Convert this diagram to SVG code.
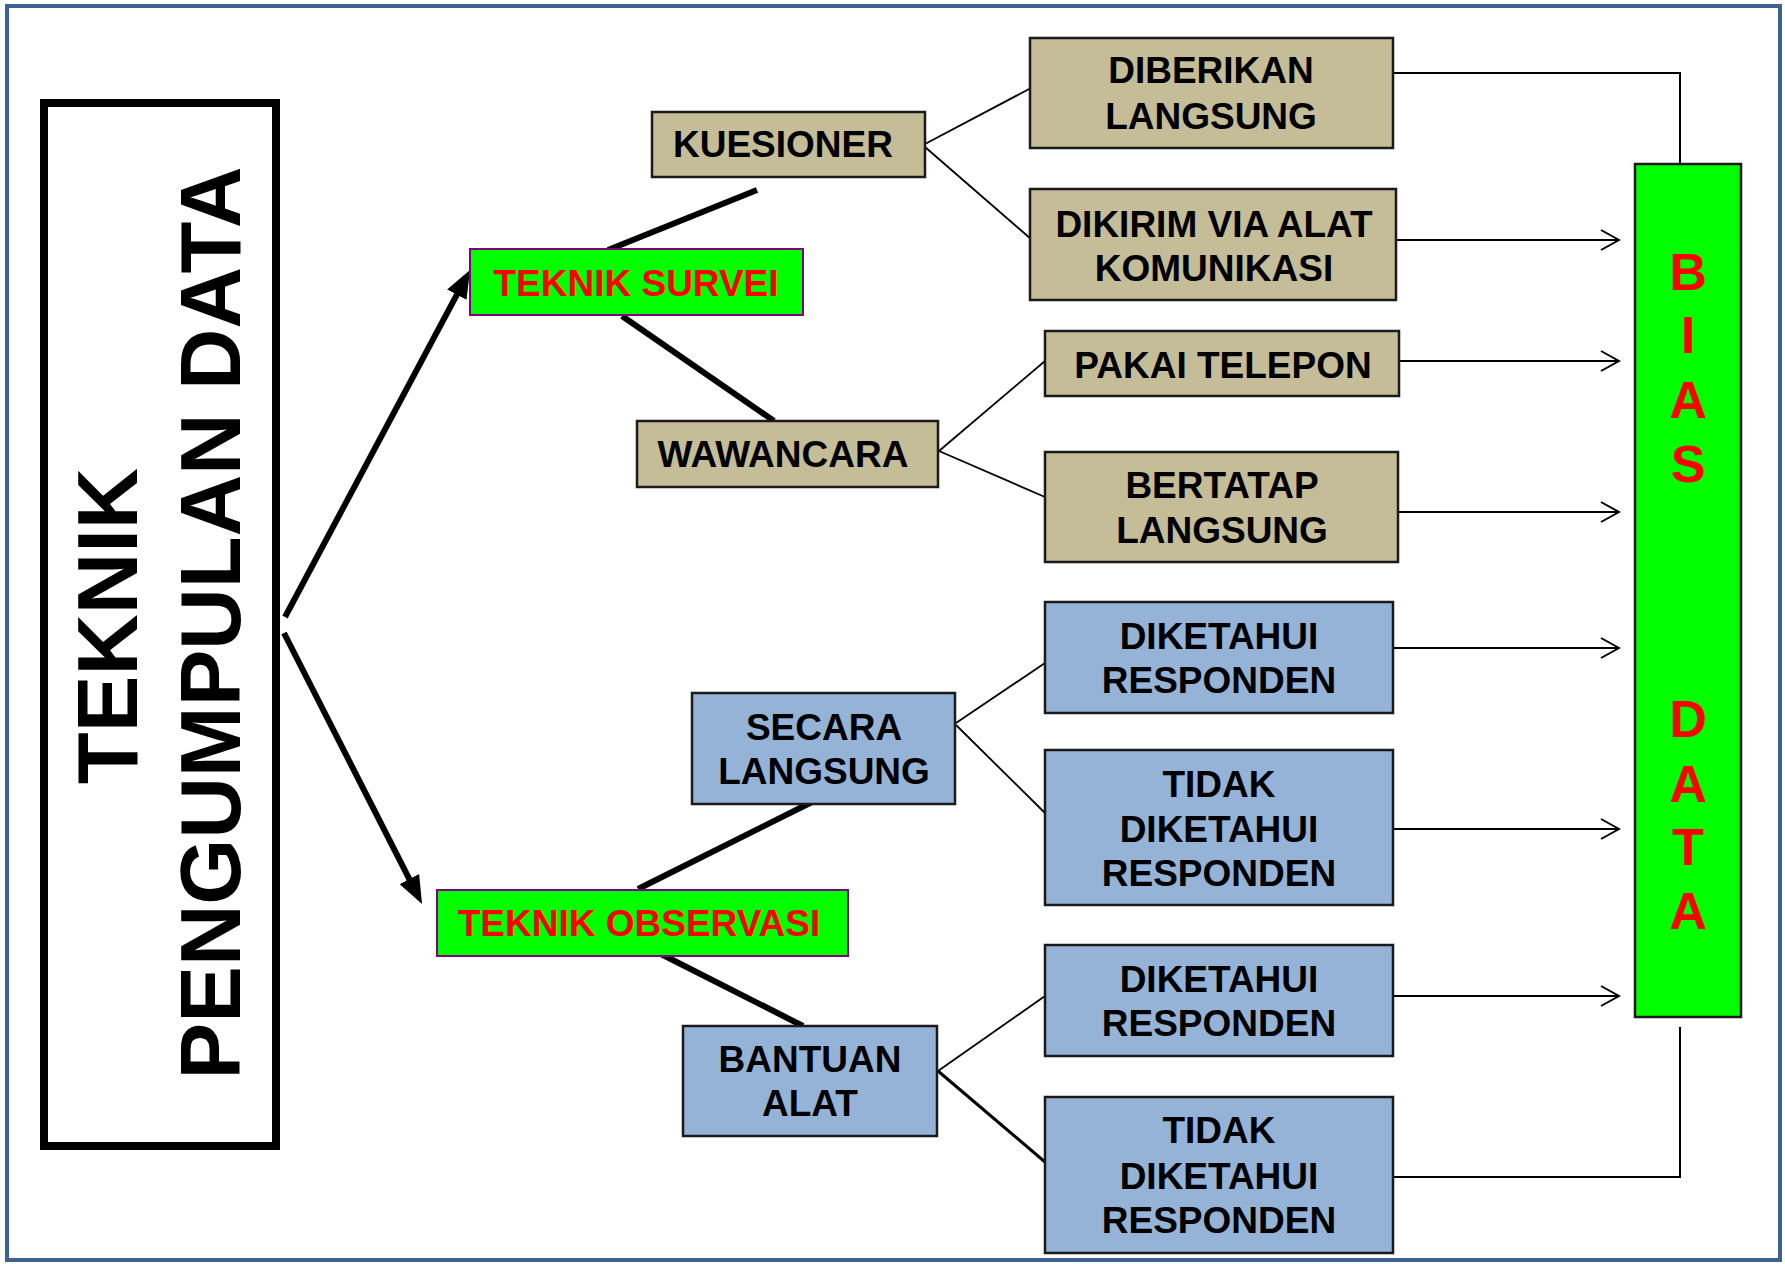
<svg xmlns="http://www.w3.org/2000/svg" width="1785" height="1264" viewBox="0 0 1785 1264">
<defs>
<style>
.t{font-family:"Liberation Sans",Arial,sans-serif;font-weight:bold;text-anchor:middle}
.bk{fill:#000;font-size:37px}
.rd{fill:#FF0000;font-size:37px}
.big{fill:#000;font-size:85px}
.bias{fill:#FF0000;font-size:52px}
.tan{fill:#C4BD97;stroke:#1a1a1a;stroke-width:2.5}
.blu{fill:#95B3D7;stroke:#1a1a1a;stroke-width:2.5}
.grn{fill:#00FF00;stroke:#7F007F;stroke-width:2}
.thick{stroke:#000;stroke-width:6;fill:none}
.thin{stroke:#000;stroke-width:1.8;fill:none}
.ar{stroke:#000;stroke-width:2;fill:none}
.main{fill:#fff;stroke:#000;stroke-width:8}
</style>
<marker id="solid" markerUnits="userSpaceOnUse" markerWidth="28" markerHeight="22" viewBox="0 0 28 22" refX="18" refY="11" orient="auto"><path d="M0,0 L28,11 L0,22 Z" fill="#000"/></marker>
<marker id="open" markerUnits="userSpaceOnUse" markerWidth="22" markerHeight="24" viewBox="0 0 22 24" refX="20" refY="12" orient="auto"><path d="M2,2 L20,12 L2,22" fill="none" stroke="#000" stroke-width="2"/></marker>
</defs>
<rect x="0" y="0" width="1785" height="1264" fill="#fff"/>
<rect x="7" y="6" width="1773" height="1254" fill="#fff" stroke="#3E6291" stroke-width="4"/>

<g id="connectors">
<line class="thick" x1="285" y1="617" x2="465.3" y2="278.8" marker-end="url(#solid)"/>
<line class="thick" x1="284" y1="633" x2="417.5" y2="895.1" marker-end="url(#solid)"/>
<line class="thick" x1="608" y1="250" x2="757" y2="190"/>
<line class="thick" x1="622" y1="316" x2="774" y2="421"/>
<line class="thick" x1="638" y1="889" x2="818" y2="799"/>
<line class="thick" x1="653" y1="950" x2="803" y2="1026"/>
<line class="thin" x1="925" y1="144" x2="1031" y2="88"/>
<line class="thin" x1="925" y1="147" x2="1031" y2="239"/>
<line class="thin" x1="939" y1="451" x2="1045" y2="361"/>
<line class="thin" x1="939" y1="451" x2="1045" y2="497"/>
<line class="thin" x1="956" y1="723" x2="1045" y2="663"/>
<line class="thin" x1="956" y1="725" x2="1045" y2="813"/>
<line class="thin" x1="938" y1="1071" x2="1045" y2="996"/>
<line class="thick" style="stroke-width:3" x1="938" y1="1071" x2="1045" y2="1162"/>
<polyline class="ar" points="1393,73 1680,73 1680,164"/>
<line class="ar" x1="1393" y1="240" x2="1619" y2="240" marker-end="url(#open)"/>
<line class="ar" x1="1393" y1="361" x2="1619" y2="361" marker-end="url(#open)"/>
<line class="ar" x1="1393" y1="512" x2="1619" y2="512" marker-end="url(#open)"/>
<line class="ar" x1="1393" y1="648" x2="1619" y2="648" marker-end="url(#open)"/>
<line class="ar" x1="1393" y1="829" x2="1619" y2="829" marker-end="url(#open)"/>
<line class="ar" x1="1393" y1="996" x2="1619" y2="996" marker-end="url(#open)"/>
<polyline class="ar" points="1393,1177 1680,1177 1680,1027"/>
</g>

<g id="main">
<rect class="main" x="44" y="103" width="232" height="1043"/>
<text class="t big" transform="translate(137,626) rotate(-90)">TEKNIK</text>
<text class="t big" transform="translate(240,623) rotate(-90)">PENGUMPULAN DATA</text>
</g>

<g id="survei">
<rect class="grn" x="470" y="249" width="333" height="66"/>
<text class="t rd" x="636" y="296">TEKNIK SURVEI</text>
</g>
<g id="observasi">
<rect class="grn" x="437" y="890" width="411" height="66"/>
<text class="t rd" x="639" y="936">TEKNIK OBSERVASI</text>
</g>

<g id="kuesioner">
<rect class="tan" x="652" y="112" width="273" height="65"/>
<text class="t bk" x="783" y="157">KUESIONER</text>
</g>
<g id="wawancara">
<rect class="tan" x="637" y="421" width="301" height="66"/>
<text class="t bk" x="783" y="467">WAWANCARA</text>
</g>
<g id="diberikan">
<rect class="tan" x="1030" y="38" width="363" height="110"/>
<text class="t bk" x="1211" y="83">DIBERIKAN</text>
<text class="t bk" x="1211" y="129">LANGSUNG</text>
</g>
<g id="dikirim">
<rect class="tan" x="1030" y="189" width="366" height="111"/>
<text class="t bk" x="1214" y="237">DIKIRIM VIA ALAT</text>
<text class="t bk" x="1214" y="281">KOMUNIKASI</text>
</g>
<g id="telepon">
<rect class="tan" x="1045" y="331" width="354" height="65"/>
<text class="t bk" x="1223" y="378">PAKAI TELEPON</text>
</g>
<g id="bertatap">
<rect class="tan" x="1045" y="452" width="353" height="110"/>
<text class="t bk" x="1222" y="498">BERTATAP</text>
<text class="t bk" x="1222" y="543">LANGSUNG</text>
</g>

<g id="secara">
<rect class="blu" x="692" y="693" width="263" height="111"/>
<text class="t bk" x="824" y="740">SECARA</text>
<text class="t bk" x="824" y="784">LANGSUNG</text>
</g>
<g id="bantuan">
<rect class="blu" x="683" y="1026" width="254" height="110"/>
<text class="t bk" x="810" y="1072">BANTUAN</text>
<text class="t bk" x="810" y="1116">ALAT</text>
</g>
<g id="diketahui1">
<rect class="blu" x="1045" y="602" width="348" height="111"/>
<text class="t bk" x="1219" y="649">DIKETAHUI</text>
<text class="t bk" x="1219" y="693">RESPONDEN</text>
</g>
<g id="tidak1">
<rect class="blu" x="1045" y="750" width="348" height="155"/>
<text class="t bk" x="1219" y="797">TIDAK</text>
<text class="t bk" x="1219" y="842">DIKETAHUI</text>
<text class="t bk" x="1219" y="886">RESPONDEN</text>
</g>
<g id="diketahui2">
<rect class="blu" x="1045" y="945" width="348" height="111"/>
<text class="t bk" x="1219" y="992">DIKETAHUI</text>
<text class="t bk" x="1219" y="1036">RESPONDEN</text>
</g>
<g id="tidak2">
<rect class="blu" x="1045" y="1097" width="348" height="156"/>
<text class="t bk" x="1219" y="1143">TIDAK</text>
<text class="t bk" x="1219" y="1189">DIKETAHUI</text>
<text class="t bk" x="1219" y="1233">RESPONDEN</text>
</g>

<g id="bias">
<rect x="1635" y="164" width="106" height="853" fill="#00FF00" stroke="#1a1a1a" stroke-width="2.5"/>
<text class="t bias"><tspan x="1688" y="290">B</tspan><tspan x="1688" y="353">I</tspan><tspan x="1688" y="418">A</tspan><tspan x="1688" y="482">S</tspan><tspan x="1688" y="737">D</tspan><tspan x="1688" y="802">A</tspan><tspan x="1688" y="865">T</tspan><tspan x="1688" y="929">A</tspan></text>
</g>
</svg>
